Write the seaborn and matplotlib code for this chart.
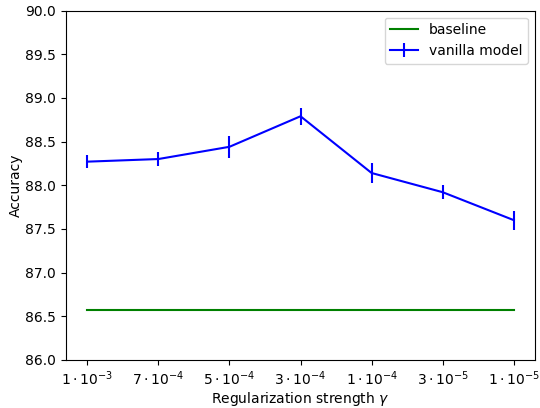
import matplotlib
matplotlib.use("Agg")
import matplotlib.pyplot as plt
import seaborn as sns
import pandas as pd

tick_labels = [r"$1\cdot10^{-3}$", r"$7\cdot10^{-4}$", r"$5\cdot10^{-4}$", r"$3\cdot10^{-4}$",
               r"$1\cdot10^{-4}$", r"$3\cdot10^{-5}$", r"$1\cdot10^{-5}$"]
vanilla = [88.27, 88.30, 88.44, 88.79, 88.14, 87.92, 87.60]
vanilla_err = [0.075, 0.08, 0.125, 0.10, 0.11, 0.08, 0.11]
baseline = [86.57] * 7

x = list(range(len(tick_labels)))
df = pd.DataFrame({"x": x, "baseline": baseline})

fig = plt.figure(figsize=(5.4, 4.08), dpi=100)
ax = fig.add_axes([0.122, 0.118, 0.869, 0.856])
sns.lineplot(data=df, x="x", y="baseline", color="green", label="baseline", ax=ax)
ax.errorbar(x, vanilla, yerr=vanilla_err, color="blue", label="vanilla model")
ax.set_ylim(86.0, 90.0)
ax.set_xticks(x)
ax.set_xticklabels(tick_labels)
ax.set_xlabel(r"Regularization strength $\gamma$", labelpad=1)
ax.set_ylabel("Accuracy", labelpad=2)
ax.legend(loc="upper right")
fig.savefig("out.png", dpi=100)
